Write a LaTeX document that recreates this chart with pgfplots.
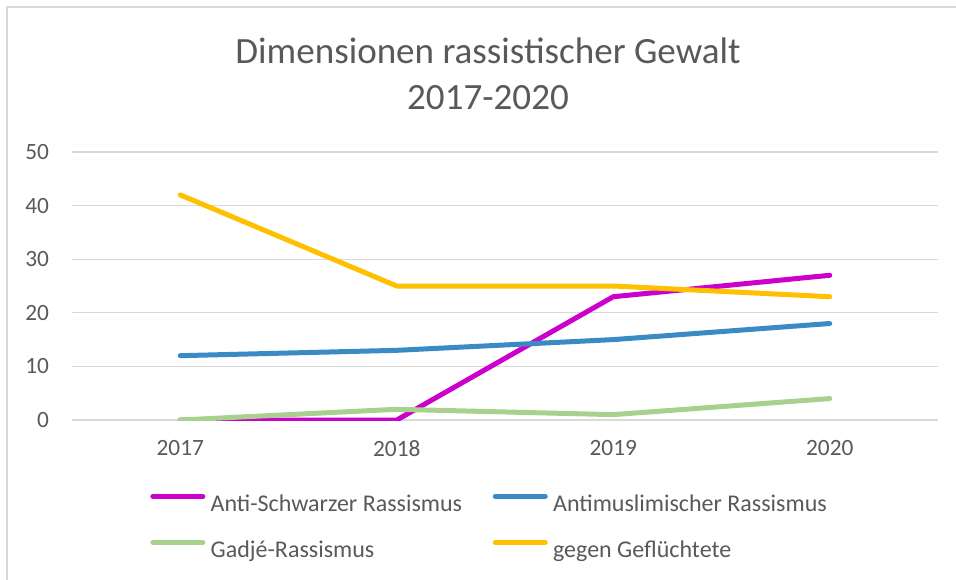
\documentclass[border=0pt]{standalone}
\usepackage{pgfplots}
\pgfplotsset{compat=1.18}
\usepackage{fontspec}
\setmainfont{Carlito}
\definecolor{txt}{HTML}{595959}
\definecolor{gridc}{HTML}{D9D9D9}
\definecolor{cmag}{HTML}{CC00CC}
\definecolor{cblue}{HTML}{3A8BC4}
\definecolor{cgreen}{HTML}{A9D18E}
\definecolor{cyel}{HTML}{FFC000}
\begin{document}
\begin{tikzpicture}
\useasboundingbox (-54pt,-119.25pt) rectangle (663pt,315pt);
\draw[gridc, line width=1.5pt] (-48.4pt,-125pt) -- (-48.4pt,309.4pt) -- (670pt,309.4pt);
\begin{axis}[
  scale only axis,
  width=649.5pt, height=201pt,
  xmin=-0.5, xmax=3.5, ymin=0, ymax=50,
  xtick={0,1,2,3}, xticklabels={2017,2018,2019,2020},
  ytick={0,10,20,30,40,50},
  ymajorgrids,
  major grid style={gridc, line width=1pt},
  axis line style={draw=none},
  tick style={draw=none},
  /pgf/number format/assume math mode=true,
  tick label style={font=\fontsize{17.5}{21}\selectfont, text=txt, inner sep=0pt},
  xticklabel style={yshift=-15pt},
  yticklabel style={xshift=-17pt},
  every axis plot/.append style={line width=3.75pt, line cap=round, line join=round},
  legend columns=2,
  legend cell align=left,
  legend image code/.code={\draw[#1, line cap=round] (0pt,5.5pt) -- (37.5pt,5.5pt);},
  legend style={at={(0.0902,-0.3975)}, anchor=west, draw=none, fill=none,
    font=\fontsize{18}{21}\selectfont, text=txt, inner sep=0pt,
    nodes={inner sep=0pt}, column sep=0pt, row sep=20pt,
    /tikz/every odd column/.append style={column sep=4pt},
    /tikz/every even column/.append style={column sep=23pt}},
]
\addplot[cmag] coordinates {(0,0) (1,0) (2,23) (3,27)};
\addlegendentry{Anti-Schwarzer Rassismus}
\addplot[cblue] coordinates {(0,12) (1,13) (2,15) (3,18)};
\addlegendentry{Antimuslimischer Rassismus}
\addplot[cgreen] coordinates {(0,0) (1,2) (2,1) (3,4)};
\addlegendentry{Gadjé-Rassismus}
\addplot[cyel] coordinates {(0,42) (1,25) (2,25) (3,23)};
\addlegendentry{gegen Geflüchtete}
\end{axis}
\node[anchor=base, text=txt, font=\fontsize{27.8}{32}\selectfont, inner sep=0pt] at (312pt,267pt) {Dimensionen rassistischer Gewalt};
\node[anchor=base, text=txt, font=\fontsize{27.8}{32}\selectfont, inner sep=0pt] at (312pt,232.5pt) {2017-2020};
\end{tikzpicture}
\end{document}
